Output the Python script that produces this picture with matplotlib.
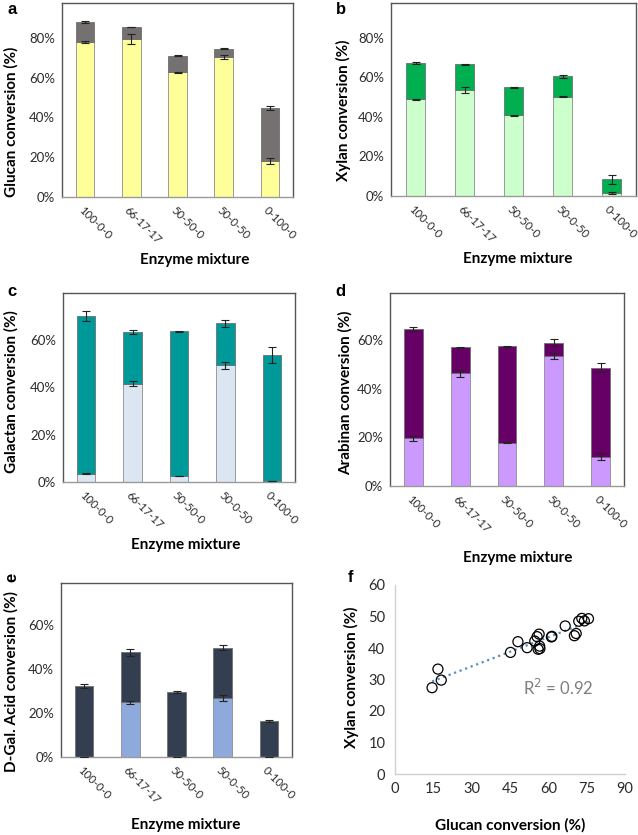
import numpy as np
import matplotlib
matplotlib.use('Agg')
import matplotlib.pyplot as plt
from matplotlib.ticker import PercentFormatter
from matplotlib.transforms import ScaledTranslation

plt.rcParams['font.family'] = ['Lato', 'DejaVu Sans']

W, H = 638, 835

mixtures = ['100-0-0', '66-17-17', '50-50-0', '50-0-50', '0-100-0']

# stacked bars: lower part value, and total height (%)
glucan_low = [78.0, 79.5, 62.7, 70.5, 18.0]
glucan_low_err = [0.3, 2.5, 0.3, 1.0, 1.5]
glucan_total = [88.0, 85.5, 71.0, 74.7, 45.0]
glucan_total_err = [0.3, 0.2, 0.2, 0.4, 1.0]

xylan_low = [49.0, 53.5, 40.8, 50.2, 1.5]
xylan_low_err = [0.3, 1.5, 0.3, 0.2, 0.7]
xylan_total = [67.3, 66.7, 55.1, 60.5, 8.4]
xylan_total_err = [0.4, 0.2, 0.2, 0.8, 2.2]

galactan_low = [3.5, 41.4, 2.5, 49.2, 0.5]
galactan_low_err = [0.2, 1.0, 0.1, 1.5, 0.1]
galactan_total = [70.0, 63.3, 63.5, 66.8, 53.5]
galactan_total_err = [2.2, 0.8, 0.2, 1.5, 3.3]

arabinan_low = [19.6, 46.3, 17.8, 53.6, 12.0]
arabinan_low_err = [0.9, 1.5, 0.2, 1.2, 1.5]
arabinan_total = [64.5, 57.0, 57.5, 59.0, 48.6]
arabinan_total_err = [0.9, 0.3, 0.2, 1.5, 1.8]

galacid_low = [0.0, 24.8, 0.0, 26.8, 0.0]
galacid_low_err = [0.0, 0.8, 0.0, 1.5, 0.0]
galacid_total = [32.2, 47.5, 29.5, 49.7, 16.4]
galacid_total_err = [1.0, 1.5, 0.5, 1.2, 0.4]

# scatter of panel f
glucan_conv = [14.5, 16.8, 18.1, 45.2, 48.1, 51.7, 54.7, 55.6, 56.0, 56.4, 56.6,
               56.7, 61.2, 61.4, 66.6, 70.2, 70.9, 71.9, 73.1, 74.1, 75.7]
xylan_conv = [27.4, 33.3, 29.8, 38.6, 42.0, 40.1, 42.2, 43.6, 39.6, 44.4, 40.6,
              39.8, 43.5, 43.7, 47.0, 43.9, 44.6, 48.5, 49.4, 48.6, 49.3]

fig = plt.figure(figsize=(W / 100, H / 100), dpi=100)


def box(l, t, r, b):
    # pixel box -> figure fraction
    return [l / W, 1 - b / H, (r - l) / W, (b - t) / H]


def ft(x, y, s, **kw):
    fig.text(x / W, 1 - y / H, s, **kw)


def stacked(pos, low, low_err, total, total_err, c_low, c_top, ymax, yticks):
    ax = fig.add_axes(box(*pos))
    x = np.arange(len(mixtures))
    low = np.array(low)
    total = np.array(total)
    ax.bar(x, low, 0.4, color=c_low, edgecolor='#8c8c8c', lw=0.6, zorder=2)
    ax.bar(x, total - low, 0.4, bottom=low, color=c_top, edgecolor='#6f6f6f', lw=0.6, zorder=2)
    ax.errorbar(x, low, yerr=low_err, fmt='none', ecolor='#222222', elinewidth=0.8, capsize=3, capthick=0.8, zorder=3)
    ax.errorbar(x, total, yerr=total_err, fmt='none', ecolor='#222222', elinewidth=0.8, capsize=3, capthick=0.8, zorder=3)
    ax.set_xlim(-0.5, 4.5)
    ax.set_ylim(0, ymax)
    ax.set_yticks(yticks)
    ax.yaxis.set_major_formatter(PercentFormatter(decimals=0))
    ax.set_xticks(x)
    ax.set_xticklabels(mixtures, rotation=-45, ha='left', va='center', rotation_mode='anchor')
    ax.tick_params(axis='y', length=0, labelsize=9.5, labelcolor='#2b2b2b', pad=5)
    ax.tick_params(axis='x', length=0, labelsize=8.1, labelcolor='#2b2b2b', pad=8)
    # shift the slanted labels a little to the left, like the original
    shift = ScaledTranslation(-0.05, 0, fig.dpi_scale_trans)
    for lbl in ax.get_xticklabels():
        lbl.set_transform(lbl.get_transform() + shift)
    for sp in ax.spines.values():
        sp.set_color('#555555')
        sp.set_linewidth(1.0)
    ax.spines['bottom'].set_color('#9a9a9a')
    return ax


ax_a = stacked((62, 3, 293, 197), glucan_low, glucan_low_err, glucan_total, glucan_total_err,
               '#FFFF99', '#767171', 97.6, [0, 20, 40, 60, 80])
ax_b = stacked((391, 3, 636, 196), xylan_low, xylan_low_err, xylan_total, xylan_total_err,
               '#CCFFCC', '#00B050', 97.7, [0, 20, 40, 60, 80])
ax_c = stacked((63, 293, 295, 482), galactan_low, galactan_low_err, galactan_total, galactan_total_err,
               '#DCE6F2', '#009999', 79.6, [0, 20, 40, 60])
ax_d = stacked((390, 293, 624, 486), arabinan_low, arabinan_low_err, arabinan_total, arabinan_total_err,
               '#CC99FF', '#660066', 79.4, [0, 20, 40, 60])
ax_e = stacked((61, 583, 292, 757), galacid_low, galacid_low_err, galacid_total, galacid_total_err,
               '#8EA9DB', '#333F50', 79.0, [0, 20, 40, 60])

# panel f: scatter with linear trend
ax_f = fig.add_axes(box(395, 585, 625, 774))
ax_f.scatter(glucan_conv, xylan_conv, s=52, facecolors='none', edgecolors='black', linewidths=0.9, zorder=3)
coef = np.polyfit(glucan_conv, xylan_conv, 1)
xs = np.array([min(glucan_conv), max(glucan_conv)])
ax_f.plot(xs, np.polyval(coef, xs), ls=':', color='#5B8FB9', lw=1.6, zorder=2)
ax_f.set_xlim(0, 90)
ax_f.set_ylim(0, 60)
ax_f.set_xticks(range(0, 91, 15))
ax_f.set_yticks(range(0, 61, 10))
ax_f.tick_params(axis='both', length=0, labelsize=10.5, labelcolor='#2b2b2b')
ax_f.tick_params(axis='x', pad=6)
ax_f.tick_params(axis='y', pad=7)
for s in ['top', 'right']:
    ax_f.spines[s].set_visible(False)
for s in ['left', 'bottom']:
    ax_f.spines[s].set_color('#d0d0d0')
    ax_f.spines[s].set_linewidth(1.0)
ax_f.text(64, 27.4, 'R$^2$ = 0.92', color='#7f7f7f', fontsize=12, ha='center', va='center')

# axis titles
lab = dict(fontsize=11, fontweight='bold', ha='center', va='center')
ft(195, 260, 'Enzyme mixture', **lab)
ft(518, 259, 'Enzyme mixture', **lab)
ft(186, 545, 'Enzyme mixture', **lab)
ft(518, 558, 'Enzyme mixture', **lab)
ft(186, 825, 'Enzyme mixture', **lab)
ft(510, 825, 'Glucan conversion (%)', **lab)
ft(11, 122, 'Glucan conversion (%)', rotation=90, **lab)
ft(343, 110, 'Xylan conversion (%)', rotation=90, **lab)
ft(11, 392, 'Galactan conversion (%)', rotation=90, **lab)
ft(345, 393, 'Arabinan conversion (%)', rotation=90, **lab)
ft(11, 681, 'D-Gal. Acid conversion (%)', rotation=90, **lab)
ft(351, 677, 'Xylan conversion (%)', rotation=90, **lab)

# panel letters
let = dict(fontsize=12, fontweight='bold', family='Liberation Sans', ha='center', va='center')
ft(12, 10, 'a', **let)
ft(341, 10, 'b', **let)
ft(12, 292, 'c', **let)
ft(340, 292, 'd', **let)
ft(12, 577, 'e', rotation=90, **let)
ft(350, 578, 'f', **let)

plt.savefig('out.png', dpi=100)
